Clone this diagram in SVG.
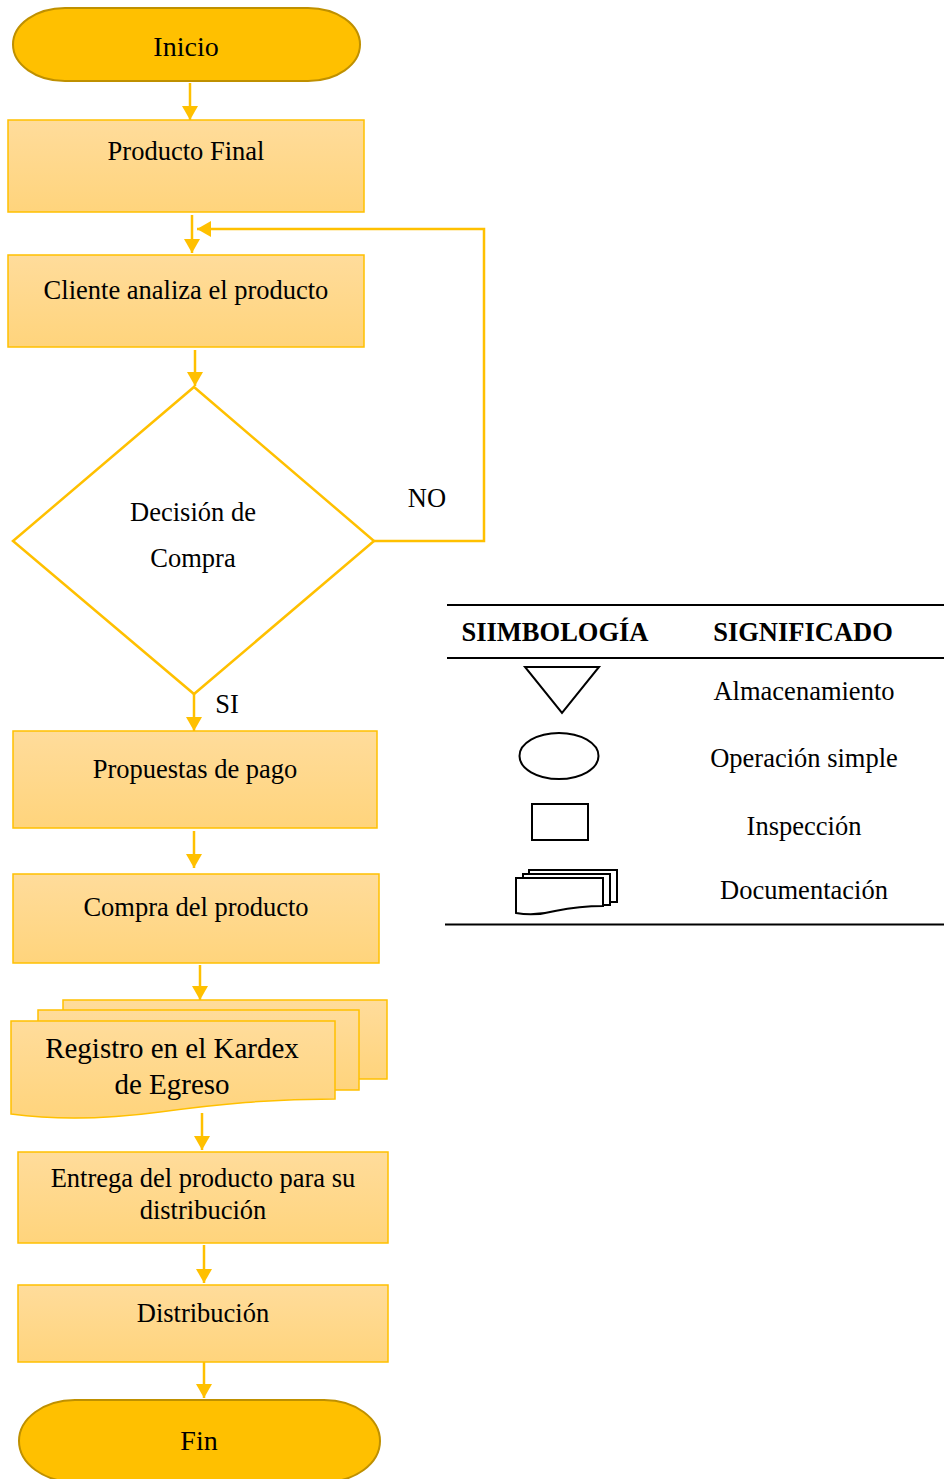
<svg xmlns="http://www.w3.org/2000/svg" width="949" height="1479" viewBox="0 0 949 1479">
<style>
text{font-family:"Liberation Serif","Times New Roman",serif;fill:#000;}
.t{font-size:26.5px;text-anchor:middle;}
.tl{font-size:28px;text-anchor:middle;}
.tr{font-size:29px;text-anchor:middle;}
.tb{font-size:26.5px;font-weight:bold;text-anchor:middle;}
.box{fill:url(#g);stroke:#FFC000;stroke-width:1.5;}
.term{fill:#FFC000;stroke:#BF9000;stroke-width:2;}
.dia{fill:#fff;stroke:#FFC000;stroke-width:2.5;}
.c{fill:none;stroke:#FFC000;stroke-width:2.5;}
.ln{stroke:#000;stroke-width:2;fill:none;}
.ic{fill:#fff;stroke:#000;stroke-width:2;}
</style>
<defs>
<linearGradient id="g" x1="0" y1="0" x2="0" y2="1">
<stop offset="0" stop-color="#FFDC9B"/>
<stop offset="1" stop-color="#FFD47C"/>
</linearGradient>
<marker id="ah" markerUnits="userSpaceOnUse" markerWidth="16" markerHeight="16" refX="14" refY="8" orient="auto">
<path d="M0,0 L14,8 L0,16 Z" fill="#FFC000"/>
</marker>
</defs>

<g id="connectors">
<line class="c" x1="190" y1="83" x2="190" y2="120" marker-end="url(#ah)"/>
<line class="c" x1="192" y1="215" x2="192" y2="253" marker-end="url(#ah)"/>
<polyline class="c" points="374,541 484,541 484,229 197,229" marker-end="url(#ah)"/>
<line class="c" x1="195" y1="350" x2="195" y2="386" marker-end="url(#ah)"/>
<line class="c" x1="194" y1="694" x2="194" y2="731" marker-end="url(#ah)"/>
<line class="c" x1="194" y1="831" x2="194" y2="868" marker-end="url(#ah)"/>
<line class="c" x1="200" y1="965" x2="200" y2="1000" marker-end="url(#ah)"/>
<line class="c" x1="202" y1="1113" x2="202" y2="1150" marker-end="url(#ah)"/>
<line class="c" x1="204" y1="1245" x2="204" y2="1283" marker-end="url(#ah)"/>
<line class="c" x1="204" y1="1362" x2="204" y2="1398" marker-end="url(#ah)"/>
<text x="427" y="507" class="t">NO</text>
<text x="227" y="713" class="t">SI</text>
</g>

<g id="inicio">
<rect class="term" x="13" y="8" width="347" height="73" rx="52" ry="36.5"/>
<text x="186" y="56" class="tl">Inicio</text>
</g>

<g id="producto-final">
<rect class="box" x="8" y="120" width="356" height="92"/>
<text x="186" y="160" class="t">Producto Final</text>
</g>

<g id="cliente">
<rect class="box" x="8" y="255" width="356" height="92"/>
<text x="186" y="299" class="t">Cliente analiza el producto</text>
</g>

<g id="decision">
<polygon class="dia" points="194,387 374,541 194,694 13,541"/>
<text x="193" y="521" class="t">Decisión de</text>
<text x="193" y="567" class="t">Compra</text>
</g>

<g id="propuestas">
<rect class="box" x="13" y="731" width="364" height="97"/>
<text x="195" y="778" class="t">Propuestas de pago</text>
</g>

<g id="compra">
<rect class="box" x="13" y="874" width="366" height="89"/>
<text x="196" y="916" class="t">Compra del producto</text>
</g>

<g id="registro">
<rect class="box" x="63" y="1000" width="324" height="79"/>
<rect class="box" x="38" y="1010" width="321" height="80"/>
<path class="box" d="M11,1021 H335 V1099 C 270,1099 220,1104 160,1112 C 100,1120 55,1120 11,1114 Z"/>
<text x="172" y="1058" class="tr">Registro en el Kardex</text>
<text x="172" y="1094" class="tr">de Egreso</text>
</g>

<g id="entrega">
<rect class="box" x="18" y="1152" width="370" height="91"/>
<text x="203" y="1187" class="t">Entrega del producto para su</text>
<text x="203" y="1219" class="t">distribución</text>
</g>

<g id="distribucion">
<rect class="box" x="18" y="1285" width="370" height="77"/>
<text x="203" y="1322" class="t">Distribución</text>
</g>

<g id="fin">
<rect class="term" x="19" y="1400" width="361" height="82" rx="56" ry="41"/>
<text x="199" y="1450" class="tl">Fin</text>
</g>

<g id="legend">
<line class="ln" x1="447" y1="605" x2="944" y2="605"/>
<text x="555" y="641" class="tb">SIIMBOLOGÍA</text>
<text x="803" y="641" class="tb">SIGNIFICADO</text>
<line class="ln" x1="447" y1="658" x2="944" y2="658"/>
<polygon class="ic" points="525,667 599,667 562,713"/>
<text x="804" y="700" class="t">Almacenamiento</text>
<ellipse class="ic" cx="559" cy="756" rx="39.5" ry="23"/>
<text x="804" y="767" class="t">Operación simple</text>
<rect class="ic" x="532" y="804" width="56" height="36"/>
<text x="804" y="835" class="t">Inspección</text>
<rect class="ic" x="529" y="870" width="88" height="32"/>
<rect class="ic" x="523" y="874" width="87" height="31"/>
<path class="ic" d="M516,878 H603 V906 C 585,906 570,908 555,911 C 540,915 527,915 516,913 Z"/>
<text x="804" y="899" class="t">Documentación</text>
<line class="ln" x1="445" y1="924.5" x2="944" y2="924.5"/>
</g>
</svg>
